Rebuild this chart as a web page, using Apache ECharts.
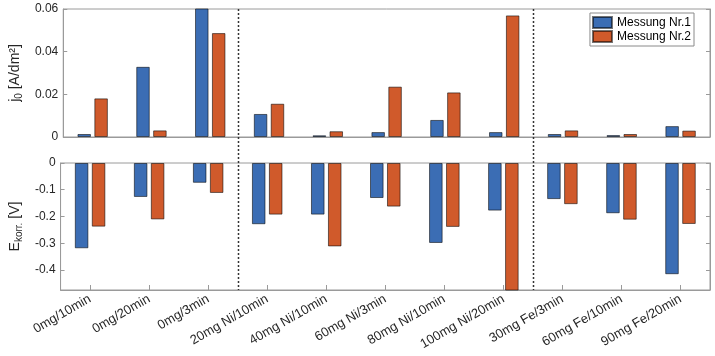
<!DOCTYPE html>
<html><head><meta charset="utf-8">
<script src="https://cdn.jsdelivr.net/npm/echarts@6/dist/echarts.min.js"></script>
<style>html,body{margin:0;padding:0;background:#fff}#c{width:715px;height:356px}</style>
</head><body><div id="c"></div>
<script>
const categories = ['0mg/10min','0mg/20min','0mg/3min','20mg Ni/10min','40mg Ni/10min','60mg Ni/3min','80mg Ni/10min','100mg Ni/20min','30mg Fe/3min','60mg Fe/10min','90mg Fe/20min'];
const seriesNames = ['Messung Nr.1','Messung Nr.2'];
const j0Nr1 = [0.0014,0.0329,0.0605,0.0108,0.0008,0.0023,0.0080,0.0023,0.0014,0.0009,0.0051];
const j0Nr2 = [0.0181,0.0031,0.0487,0.0156,0.0027,0.0236,0.0209,0.0570,0.0031,0.0014,0.0030];
const ekorrNr1 = [-0.319,-0.127,-0.074,-0.229,-0.193,-0.131,-0.299,-0.178,-0.135,-0.188,-0.416];
const ekorrNr2 = [-0.238,-0.211,-0.112,-0.193,-0.312,-0.163,-0.239,-0.500,-0.154,-0.212,-0.228];
const j0Range = [0, 0.06];
const j0Ticks = [0, 0.02, 0.04, 0.06];
const ekorrRange = [-0.475, 0];
const ekorrTicks = [0, -0.1, -0.2, -0.3, -0.4];
const groupSeparators = [2.5, 7.5];

const FONT = "'Liberation Sans', Arial, sans-serif";
const AX = '#9a9a9a';
const TXT = '#262626';
const BLUE = '#3b6db4';
const ORANGE = '#d05a2b';

const chart = echarts.init(document.getElementById('c'), null, {renderer: 'canvas'});

const nameRich = {
  m: {fontSize: 14, lineHeight: 16, verticalAlign: 'top', color: TXT, fontFamily: FONT},
  s: {fontSize: 10, lineHeight: 8, verticalAlign: 'bottom', color: TXT, fontFamily: FONT}
};

function yAx(gridIndex, range, ticks, pos, name) {
  return {
    type: 'value', gridIndex, position: pos, min: range[0], max: range[1],
    name: name || '', nameLocation: 'middle', nameRotate: 90, nameGap: 36,
    nameTextStyle: {rich: nameRich},
    axisLine: {show: true, lineStyle: {color: AX, width: 1}},
    axisTick: {show: true, inside: true, length: 4, lineStyle: {color: AX}, customValues: ticks},
    axisLabel: {show: pos === 'left', customValues: ticks, color: TXT, fontSize: 12, fontFamily: FONT, margin: 5},
    splitLine: {show: false}
  };
}

const barStyle = (c) => ({color: c, borderColor: 'rgba(0,0,0,0.55)', borderWidth: 1});

const option = {
  animation: false,
  backgroundColor: '#fff',
  grid: [
    {left: 57, top: 9, width: 653, height: 128, show: true, borderColor: AX, borderWidth: 1},
    {left: 57, top: 163, width: 653, height: 127, show: true, borderColor: AX, borderWidth: 1}
  ],
  xAxis: [
    {type: 'category', gridIndex: 0, data: categories, boundaryGap: true,
     axisLine: {show: true, lineStyle: {color: AX}}, axisTick: {show: false}, axisLabel: {show: false}},
    {type: 'category', gridIndex: 1, data: categories, boundaryGap: true, position: 'bottom',
     axisLine: {show: true, onZero: false, lineStyle: {color: AX}},
     axisTick: {show: true, inside: true, alignWithLabel: true, length: 5, lineStyle: {color: AX}},
     axisLabel: {rotate: 30, margin: 8, color: TXT, fontSize: 13, fontFamily: FONT, interval: 0}}
  ],
  yAxis: [
    yAx(0, j0Range, j0Ticks, 'left', '{m|j}{s|0}{m| [A/dm²]}'),
    yAx(0, j0Range, j0Ticks, 'right'),
    yAx(1, ekorrRange, ekorrTicks, 'left', '{m|E}{s|korr.}{m| [V]}'),
    yAx(1, ekorrRange, ekorrTicks, 'right')
  ],
  legend: {
    data: seriesNames, orient: 'vertical', right: 21, top: 13,
    itemWidth: 19, itemHeight: 11, itemGap: 1, icon: 'rect',
    borderColor: '#8a8a8a', borderWidth: 1, padding: [3, 3, 3, 2], backgroundColor: '#fff',
    textStyle: {fontSize: 12, color: '#000', fontFamily: FONT}
  },
  series: [
    {name: seriesNames[0], type: 'bar', xAxisIndex: 0, yAxisIndex: 0, data: j0Nr1, barWidth: '23%', barGap: '25%', itemStyle: barStyle(BLUE), clip: true},
    {name: seriesNames[1], type: 'bar', xAxisIndex: 0, yAxisIndex: 0, data: j0Nr2, barWidth: '23%', barGap: '25%', itemStyle: barStyle(ORANGE), clip: true},
    {name: seriesNames[0], type: 'bar', xAxisIndex: 1, yAxisIndex: 2, data: ekorrNr1, barWidth: '23%', barGap: '25%', itemStyle: barStyle(BLUE), clip: true},
    {name: seriesNames[1], type: 'bar', xAxisIndex: 1, yAxisIndex: 2, data: ekorrNr2, barWidth: '23%', barGap: '25%', itemStyle: barStyle(ORANGE), clip: true}
  ]
};
chart.setOption(option);

const yTop = chart.convertToPixel({yAxisIndex: 0}, j0Range[1]);
const yBot = chart.convertToPixel({yAxisIndex: 2}, ekorrRange[0]);
const lines = groupSeparators.map(s => {
  const a = chart.convertToPixel({xAxisIndex: 1}, categories[Math.floor(s)]);
  const b = chart.convertToPixel({xAxisIndex: 1}, categories[Math.ceil(s)]);
  const x = Math.round((a + b) / 2) + 0.5;
  return {type: 'line', shape: {x1: x, y1: yTop, x2: x, y2: yBot}, z: 10,
          style: {stroke: '#333', lineWidth: 1.5, lineDash: [2, 2]}};
});
chart.setOption({graphic: lines});
</script></body></html>
